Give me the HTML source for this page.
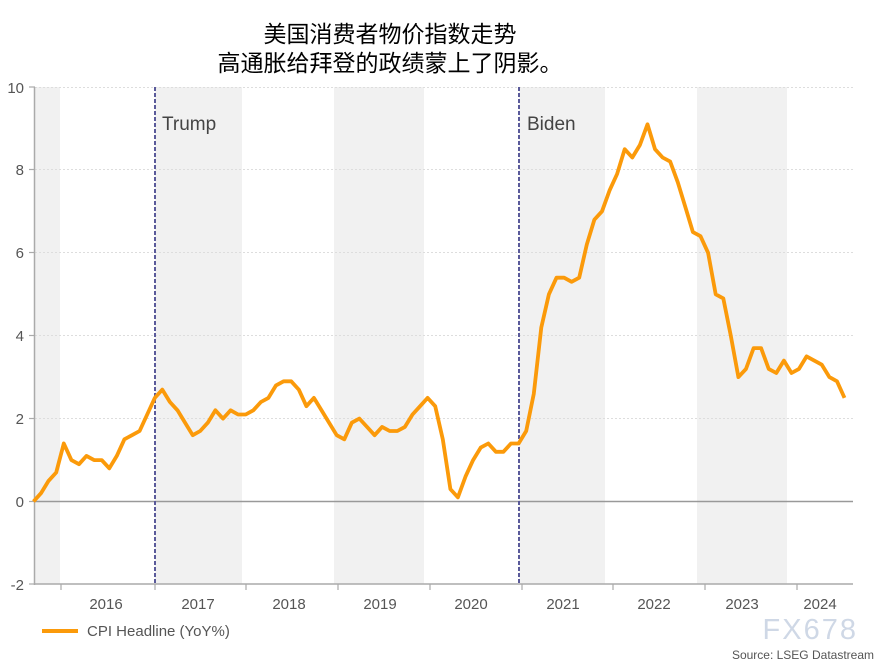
<!DOCTYPE html>
<html><head><meta charset="utf-8"><style>
body{margin:0;background:#fff;width:887px;height:663px;overflow:hidden;font-family:"Liberation Sans",Arial,sans-serif}
</style></head><body>
<svg width="887" height="663" xmlns="http://www.w3.org/2000/svg">
<g font-family="'Liberation Sans','Noto Sans CJK SC',sans-serif" font-size="23" fill="#000" text-anchor="middle">
<text x="390" y="42">美国消费者物价指数走势</text>
<text x="390" y="71">高通胀给拜登的政绩蒙上了阴影。</text>
</g>
<g fill="#f1f1f1">
<rect x="35" y="87" width="25" height="497"/>
<rect x="155" y="87" width="87" height="497"/>
<rect x="334" y="87" width="90" height="497"/>
<rect x="519" y="87" width="86" height="497"/>
<rect x="697" y="87" width="90" height="497"/>
</g>
<g stroke="#ddd" stroke-dasharray="2,2" stroke-width="1">
<line x1="35" x2="853" y1="87.5" y2="87.5"/>
<line x1="35" x2="853" y1="169.5" y2="169.5"/>
<line x1="35" x2="853" y1="252.5" y2="252.5"/>
<line x1="35" x2="853" y1="335.5" y2="335.5"/>
<line x1="35" x2="853" y1="418.5" y2="418.5"/>
</g>
<line x1="35" x2="853" y1="501.5" y2="501.5" stroke="#999" stroke-width="1.5"/>
<line x1="35" x2="853" y1="584" y2="584" stroke="#aaa" stroke-width="1.5"/>
<line x1="34.5" x2="34.5" y1="87" y2="585" stroke="#aaa" stroke-width="1.5"/>
<g stroke="#aaa" stroke-width="1.2">
<line x1="29" x2="35" y1="87" y2="87"/><line x1="29" x2="35" y1="169.5" y2="169.5"/><line x1="29" x2="35" y1="252.5" y2="252.5"/><line x1="29" x2="35" y1="335.5" y2="335.5"/><line x1="29" x2="35" y1="418.5" y2="418.5"/><line x1="29" x2="35" y1="501.5" y2="501.5"/><line x1="29" x2="35" y1="584" y2="584"/>
<line x1="61" x2="61" y1="584" y2="590"/><line x1="155" x2="155" y1="584" y2="590"/><line x1="246" x2="246" y1="584" y2="590"/><line x1="338" x2="338" y1="584" y2="590"/><line x1="430" x2="430" y1="584" y2="590"/><line x1="522" x2="522" y1="584" y2="590"/><line x1="613" x2="613" y1="584" y2="590"/><line x1="705" x2="705" y1="584" y2="590"/><line x1="797" x2="797" y1="584" y2="590"/>
</g>
<g font-size="15" fill="#555" text-anchor="end">
<text x="24" y="93">10</text><text x="24" y="175">8</text><text x="24" y="258">6</text><text x="24" y="341">4</text><text x="24" y="424">2</text><text x="24" y="507">0</text><text x="24" y="590">-2</text>
</g>
<g font-size="15" fill="#555" text-anchor="middle">
<text x="106" y="609">2016</text><text x="198" y="609">2017</text><text x="289" y="609">2018</text><text x="380" y="609">2019</text><text x="471" y="609">2020</text><text x="563" y="609">2021</text><text x="654" y="609">2022</text><text x="742" y="609">2023</text><text x="820" y="609">2024</text>
</g>
<g stroke="#5a5a9a" stroke-width="2" stroke-dasharray="4,2">
<line x1="155" x2="155" y1="87" y2="584"/><line x1="519" x2="519" y1="87" y2="584"/>
</g>
<g font-size="19" fill="#444"><text x="162" y="130">Trump</text><text x="527" y="130">Biden</text></g>
<polyline id="cpi" fill="none" stroke="#fb9a0a" stroke-width="3.8" stroke-linejoin="round" points=""/>
<line x1="42" x2="78" y1="631" y2="631" stroke="#fb9a0a" stroke-width="4"/>
<text x="87" y="636" font-size="15" fill="#555">CPI Headline (YoY%)</text>
<text x="858" y="639" font-size="29" fill="#cfd8e6" text-anchor="end" letter-spacing="2">FX678</text>
<text x="874" y="659" font-size="12" fill="#555" text-anchor="end">Source: LSEG Datastream</text>
</svg>
<script>
var d=[0.0,0.2,0.5,0.7,1.4,1.0,0.9,1.1,1.0,1.0,0.8,1.1,1.5,1.6,1.7,2.1,2.5,2.7,2.4,2.2,1.9,1.6,1.7,1.9,2.2,2.0,2.2,2.1,2.1,2.2,2.4,2.5,2.8,2.9,2.9,2.7,2.3,2.5,2.2,1.9,1.6,1.5,1.9,2.0,1.8,1.6,1.8,1.7,1.7,1.8,2.1,2.3,2.5,2.3,1.5,0.3,0.1,0.6,1.0,1.3,1.4,1.2,1.2,1.4,1.4,1.7,2.6,4.2,5.0,5.4,5.4,5.3,5.4,6.2,6.8,7.0,7.5,7.9,8.5,8.3,8.6,9.1,8.5,8.3,8.2,7.7,7.1,6.5,6.4,6.0,5.0,4.9,4.0,3.0,3.2,3.7,3.7,3.2,3.1,3.4,3.1,3.2,3.5,3.4,3.3,3.0,2.9,2.5];
var p=[];for(var i=0;i<d.length;i++){var m=i-4;p.push((60+(m+0.5)*7.58).toFixed(1)+","+(501.5-d[i]*41.45).toFixed(1));}
document.getElementById("cpi").setAttribute("points",p.join(" "));
</script>
</body></html>
